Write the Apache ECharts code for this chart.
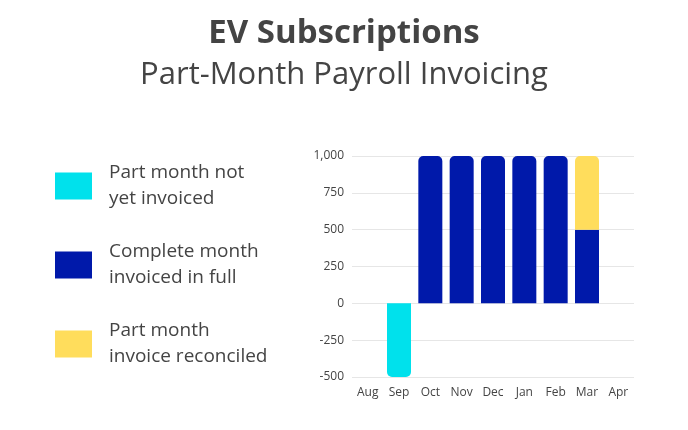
<!DOCTYPE html>
<html><head><meta charset="utf-8">
<script src="https://cdn.jsdelivr.net/npm/echarts@6/dist/echarts.min.js"></script>
<style>html,body{margin:0;padding:0;background:#fff}#c{width:688px;height:430px}</style>
</head><body><div id="c"></div>
<script>
const categories = ['Aug','Sep','Oct','Nov','Dec','Jan','Feb','Mar','Apr'];
const notYetInvoiced = [null,-500,null,null,null,null,null,null,null];
const completeMonth = [null,null,1000,1000,1000,1000,1000,500,null];
const reconciled = [null,null,null,null,null,null,null,500,null];
const yTicks = [-500,-250,0,250,500,750,1000];
const names = ['Part month not\nyet invoiced','Complete month\ninvoiced in full','Part month\ninvoice reconciled'];

const chart = echarts.init(document.getElementById('c'));
const font = 'Open Sans';
chart.setOption({
  animation:false,
  textStyle:{fontFamily:font},
  title:{text:'EV Subscriptions',subtext:'Part-Month Payroll Invoicing',left:'center',top:12,
    textStyle:{fontFamily:font,fontSize:33,fontWeight:'bold',color:'#444'},
    subtextStyle:{fontFamily:font,fontSize:31,color:'#444'},itemGap:10},
  legend:{orient:'vertical',left:50,top:155,itemWidth:37,itemHeight:27,itemGap:27,
    textStyle:{fontFamily:font,fontSize:19,color:'#444',lineHeight:26,padding:[0,0,0,12]},
    data:names, icon:'rect'},
  grid:{left:352,right:54,top:156,bottom:53},
  xAxis:{type:'category',data:categories,axisTick:{show:false},
    axisLine:{show:false},axisLabel:{color:'#444',fontSize:12,margin:10}},
  yAxis:{type:'value',min:-500,max:1000,interval:250,
    axisLabel:{color:'#444',fontSize:12,formatter:v=>yTicks.includes(v)?v.toLocaleString('en-US'):''},
    splitLine:{lineStyle:{color:'#e6e6e6'}}},
  series:[
    {name:names[0],type:'bar',stack:'s',data:notYetInvoiced,barWidth:24,
      itemStyle:{color:'#00E1EC',borderRadius:[0,0,5,5]}},
    {name:names[1],type:'bar',stack:'s',barWidth:24,
      data:completeMonth.map((v,i)=>reconciled[i]!=null&&v!=null?{value:v,itemStyle:{borderRadius:0}}:v),
      itemStyle:{color:'#0019AA',borderRadius:[5,5,0,0]}},
    {name:names[2],type:'bar',stack:'s',data:reconciled,barWidth:24,
      itemStyle:{color:'#FFDD5C',borderRadius:[5,5,0,0]}}
  ]
});
</script></body></html>
